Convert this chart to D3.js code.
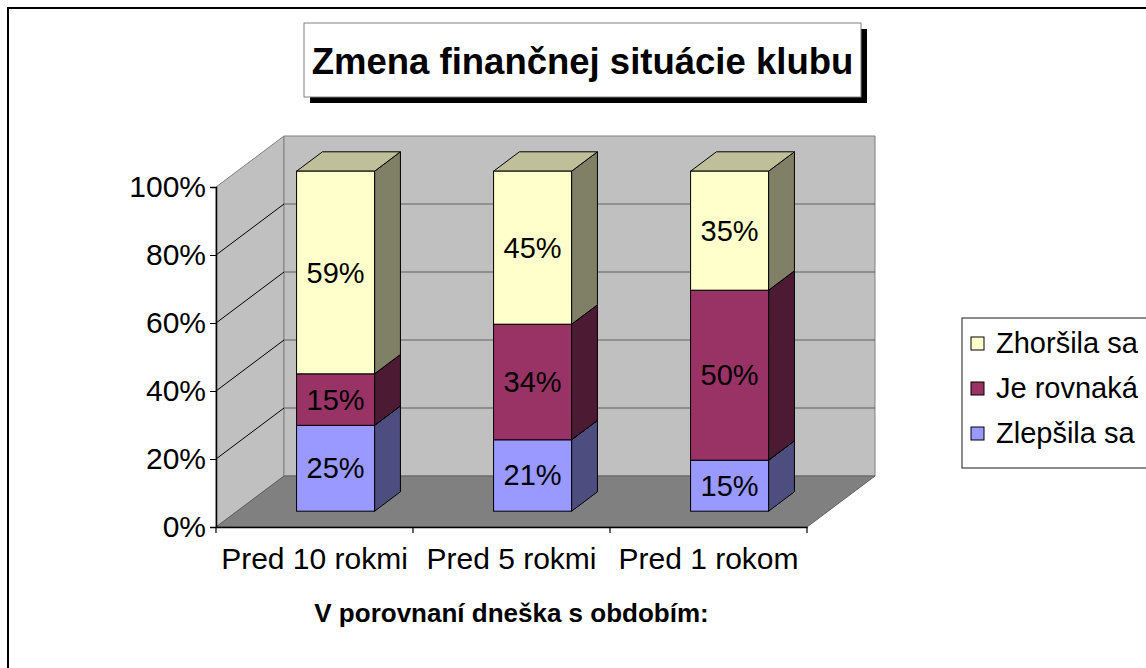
<!DOCTYPE html>
<html><head><meta charset="utf-8">
<script src="https://cdn.jsdelivr.net/npm/d3@7"></script>
<style>body{margin:0;background:#fff}svg{display:block}text{font-family:"Liberation Sans",Arial,sans-serif}</style>
</head><body>
<script>
const categories = ["Pred 10 rokmi", "Pred 5 rokmi", "Pred 1 rokom"];
const seriesNames = ["Zlepšila sa", "Je rovnaká", "Zhoršila sa"];
const zlepsila = [25, 21, 15];
const rovnaka = [15, 34, 50];
const zhorsila = [59, 45, 35];
const valueTicks = [0, 0.2, 0.4, 0.6, 0.8, 1.0];
const colors = {"Zlepšila sa":"#9999FF","Je rovnaká":"#993366","Zhoršila sa":"#FFFFCC"};

const W = 1146, H = 668;
const svg = d3.select("body").append("svg").attr("width", W).attr("height", H);

// outer border
svg.append("rect").attr("x",8).attr("y",8).attr("width",1300).attr("height",800)
  .attr("fill","#fff").attr("stroke","#000").attr("stroke-width",2);

const rows = categories.map((c,i)=>({cat:c,"Zlepšila sa":zlepsila[i],"Je rovnaká":rovnaka[i],"Zhoršila sa":zhorsila[i]}));
const stack = d3.stack().keys(seriesNames).offset(d3.stackOffsetExpand);
const stacked = stack(rows);

const x0 = 216, x1 = 807, yBottom = 527, yTop = 187;
const DX = 68, DY = -51; // full depth
const fFront = 0.31, fBack = 0.69;
const x = d3.scaleBand().domain(categories).range([x0,x1]).paddingInner(0.604).paddingOuter(0.302);
const y = d3.scaleLinear().domain([0,1]).range([yBottom,yTop]);

const pts = a => a.map(p=>p.join(",")).join(" ");

// left wall
svg.append("polygon").attr("points", pts([[x0,y(1)],[x0+DX,y(1)+DY],[x0+DX,y(0)+DY],[x0,y(0)]]))
  .attr("fill","#C0C0C0").attr("stroke","#808080").attr("stroke-width",1);
// back wall
svg.append("polygon").attr("points", pts([[x0+DX,y(1)+DY],[x1+DX,y(1)+DY],[x1+DX,y(0)+DY],[x0+DX,y(0)+DY]]))
  .attr("fill","#C0C0C0").attr("stroke","#808080").attr("stroke-width",1);
// gridlines
valueTicks.filter(v=>v>0&&v<1).forEach(v=>{
  svg.append("line").attr("x1",x0+DX).attr("x2",x1+DX).attr("y1",y(v)+DY).attr("y2",y(v)+DY)
    .attr("stroke","#606060").attr("stroke-width",1.2);
  svg.append("line").attr("x1",x0).attr("x2",x0+DX).attr("y1",y(v)).attr("y2",y(v)+DY)
    .attr("stroke","#000").attr("stroke-width",1);
});
// floor
svg.append("polygon").attr("points", pts([[x0,y(0)],[x1,y(0)],[x1+DX,y(0)+DY],[x0+DX,y(0)+DY]]))
  .attr("fill","#808080").attr("stroke","#606060").attr("stroke-width",1);

// axes
const yAxis = d3.axisLeft(y).tickValues(valueTicks).tickFormat(d3.format(".0%")).tickSize(6).tickPadding(4);
const gy = svg.append("g").attr("transform",`translate(${x0},0)`).call(yAxis);
gy.select(".domain").attr("stroke","#000").attr("stroke-width",1.5);
gy.selectAll(".tick line").attr("stroke","#000");
gy.selectAll("text").attr("font-size",30).attr("fill","#000").attr("font-family","Liberation Sans, Arial, sans-serif");

const xAxis = d3.axisBottom(x).tickSize(0).tickPadding(24);
const gx = svg.append("g").attr("transform",`translate(0,${yBottom})`).call(xAxis);
gx.select(".domain").attr("stroke","#000").attr("stroke-width",1.5);
gx.selectAll("text").attr("font-size",30).attr("fill","#000").attr("font-family","Liberation Sans, Arial, sans-serif").attr("dy","0.6em");
// category boundary ticks
const bounds = categories.map(c=>x(c)-x.step()*x.paddingInner()/2).concat([x1]);
gx.selectAll(".bt").data(bounds).join("line").attr("class","bt")
  .attr("x1",d=>d).attr("x2",d=>d).attr("y1",0).attr("y2",6).attr("stroke","#000").attr("stroke-width",1.2);

// bars
const shade = (c,k)=>{const r=d3.rgb(c);return d3.rgb(r.r*k,r.g*k,r.b*k).toString();};
const fdx = fFront*DX, fdy = fFront*DY, ddx=(fBack-fFront)*DX, ddy=(fBack-fFront)*DY;
const barG = svg.append("g");
categories.forEach((c,i)=>{
  stacked.forEach(s=>{
    const d = s[i];
    const col = colors[s.key];
    const L = x(c)+fdx, R = L + x.bandwidth();
    const yb = y(d[0])+fdy, yt = y(d[1])+fdy;
    const g = barG.append("g");
    g.append("polygon").attr("points",pts([[R,yb],[R+ddx,yb+ddy],[R+ddx,yt+ddy],[R,yt]]))
      .attr("fill",shade(col,0.5)).attr("stroke","#000").attr("stroke-width",1);
    g.append("polygon").attr("points",pts([[L,yt],[R,yt],[R+ddx,yt+ddy],[L+ddx,yt+ddy]]))
      .attr("fill",shade(col,0.75)).attr("stroke","#000").attr("stroke-width",1);
    g.append("rect").attr("x",L).attr("y",yt).attr("width",x.bandwidth()).attr("height",yb-yt)
      .attr("fill",col).attr("stroke","#000").attr("stroke-width",1);
  });
});
// labels
categories.forEach((c,i)=>{
  stacked.forEach(s=>{
    const d = s[i];
    const v = d.data[s.key];
    const L = x(c)+fdx;
    svg.append("text").attr("x",L+x.bandwidth()/2).attr("y",(y(d[0])+y(d[1]))/2+fdy)
      .attr("text-anchor","middle").attr("dominant-baseline","central")
      .attr("font-size",29).attr("fill","#000").text(v+"%");
  });
});

// axis title
svg.append("text").attr("x",(x0+x1)/2).attr("y",613).attr("text-anchor","middle").attr("dominant-baseline","central")
  .attr("font-size",26).attr("font-weight","bold").text("V porovnaní dneška s obdobím:");

// chart title
svg.append("rect").attr("x",310).attr("y",29).attr("width",557).attr("height",74).attr("fill","#000");
svg.append("rect").attr("x",304).attr("y",23).attr("width",557).attr("height",74).attr("fill","#fff").attr("stroke","#808080").attr("stroke-width",1);
svg.append("text").attr("x",582.5).attr("y",61).attr("text-anchor","middle").attr("dominant-baseline","central")
  .attr("font-size",36.5).attr("font-weight","bold").text("Zmena finančnej situácie klubu");

// legend
const lg = svg.append("g");
lg.append("rect").attr("x",962).attr("y",318).attr("width",260).attr("height",150).attr("fill","#fff").attr("stroke","#404040").attr("stroke-width",1.2);
const legendOrder = seriesNames.slice().reverse();
const ly = d3.scalePoint().domain(legendOrder).range([343,433]);
legendOrder.forEach(k=>{
  lg.append("rect").attr("x",971).attr("y",ly(k)-6).attr("width",13).attr("height",13).attr("fill",colors[k]).attr("stroke","#000").attr("stroke-width",1);
  lg.append("text").attr("x",996).attr("y",ly(k)).attr("dominant-baseline","central").attr("font-size",29).text(k);
});
</script>
</body></html>
